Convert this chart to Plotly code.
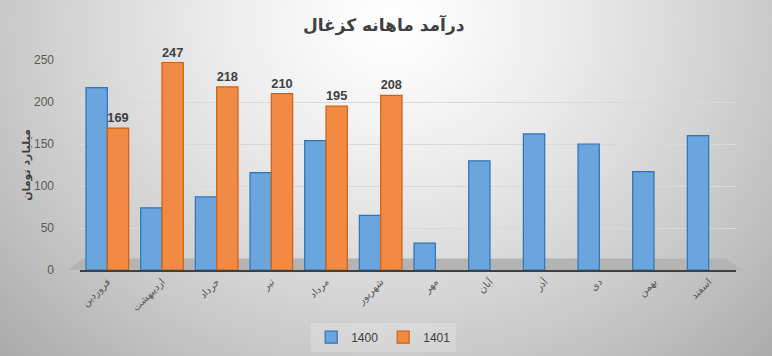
import base64, struct, zlib
import numpy as np
import plotly.graph_objects as go

months = ["فروردین", "اردیبهشت", "خرداد", "تیر", "مرداد", "شهریور",
          "مهر", "آبان", "آذر", "دی", "بهمن", "اسفند"]
y1400 = [217, 74, 87, 116, 154, 65, 32, 130, 162, 150, 117, 160]
y1401 = [169, 247, 218, 210, 195, 208, None, None, None, None, None, None]
y_ticks = [0, 50, 100, 150, 200, 250]

W, H = 772, 356
ML, MR, MT, MB = 80, 36, 60, 86


def gradient_png(w, h):
    yy, xx = np.mgrid[0:h, 0:w].astype(float)
    r = np.sqrt(((xx - 390) / 430.0) ** 2 + ((yy - 20) / 380.0) ** 2)
    v = 255 - 62 * np.clip(r, 0, 1.6) ** 1.3
    v = np.clip(v, 0, 255).astype(np.uint8)
    arr = np.stack([v, v, v], axis=-1)
    raw = b"".join(b"\x00" + arr[i].tobytes() for i in range(h))

    def chunk(t, d):
        c = struct.pack(">I", len(d)) + t + d
        return c + struct.pack(">I", zlib.crc32(t + d) & 0xffffffff)

    png = (b"\x89PNG\r\n\x1a\n"
           + chunk(b"IHDR", struct.pack(">IIBBBBB", w, h, 8, 2, 0, 0, 0))
           + chunk(b"IDAT", zlib.compress(raw, 9))
           + chunk(b"IEND", b""))
    return "data:image/png;base64," + base64.b64encode(png).decode()


pw = W - ML - MR
ph = H - MT - MB

fig = go.Figure()
fig.add_trace(go.Bar(
    name="1400", x=months, y=y1400,
    marker=dict(color="#6aa5dd", line=dict(color="#2f74b5", width=1.2)),
))
fig.add_trace(go.Bar(
    name="1401", x=months, y=y1401,
    marker=dict(color="#f08a45", line=dict(color="#d0600f", width=1.2)),
    texttemplate="%{y}", textposition="outside", cliponaxis=False,
    textfont=dict(family="Liberation Sans", size=13, color="#404040", weight="bold"),
))

fig.update_layout(
    width=W, height=H,
    margin=dict(l=ML, r=MR, t=MT, b=MB, autoexpand=False),
    paper_bgcolor="#e6e6e6",
    plot_bgcolor="rgba(0,0,0,0)",
    barmode="group", bargap=0.22, bargroupgap=0.0,
    title=dict(text="<b>درآمد ماهانه کزغال</b>", x=0.497, xanchor="center",
               xref="container", y=0.93, yanchor="middle", yref="container",
               automargin=False,
               font=dict(family="DejaVu Sans", size=17, color="#404040")),
    legend=dict(orientation="h", xref="container", x=0.497, xanchor="center",
                yref="container", y=0.053, yanchor="middle",
                bgcolor="rgba(255,255,255,0.2)",
                font=dict(family="Liberation Sans", size=12, color="#404040"),
                itemwidth=30, tracegroupgap=0),
    images=[dict(source=gradient_png(W, H), xref="paper", yref="paper",
                 x=-ML / pw, y=1 + MT / ph, sizex=W / pw, sizey=H / ph,
                 xanchor="left", yanchor="top", sizing="stretch", layer="below")],
    shapes=[dict(type="path", xref="paper", yref="paper", layer="below",
                 path="M -0.02,0 L 1.01,0 L 0.985,0.055 L 0.005,0.055 Z",
                 fillcolor="#b4b4b4", line=dict(width=0))],
    showlegend=True,
)
fig.update_xaxes(
    tickangle=-45, showline=True, linecolor="#404040", linewidth=2,
    tickfont=dict(family="DejaVu Sans", size=10, color="#595959"),
    ticks="", showgrid=False, automargin=False,
)
fig.update_yaxes(
    range=[0, 250], tickvals=y_ticks, showgrid=True, gridcolor="#d9d9d9",
    gridwidth=1, zeroline=False, ticklabelstandoff=25, automargin=False,
    tickfont=dict(family="Liberation Sans", size=12, color="#595959"),
    title=dict(text="<b>میلیارد تومان</b>", standoff=1,
               font=dict(family="DejaVu Sans", size=11, color="#404040")),
)

fig.write_html("out.html", config={"displayModeBar": False},
               post_script="document.body.style.margin='0';")
